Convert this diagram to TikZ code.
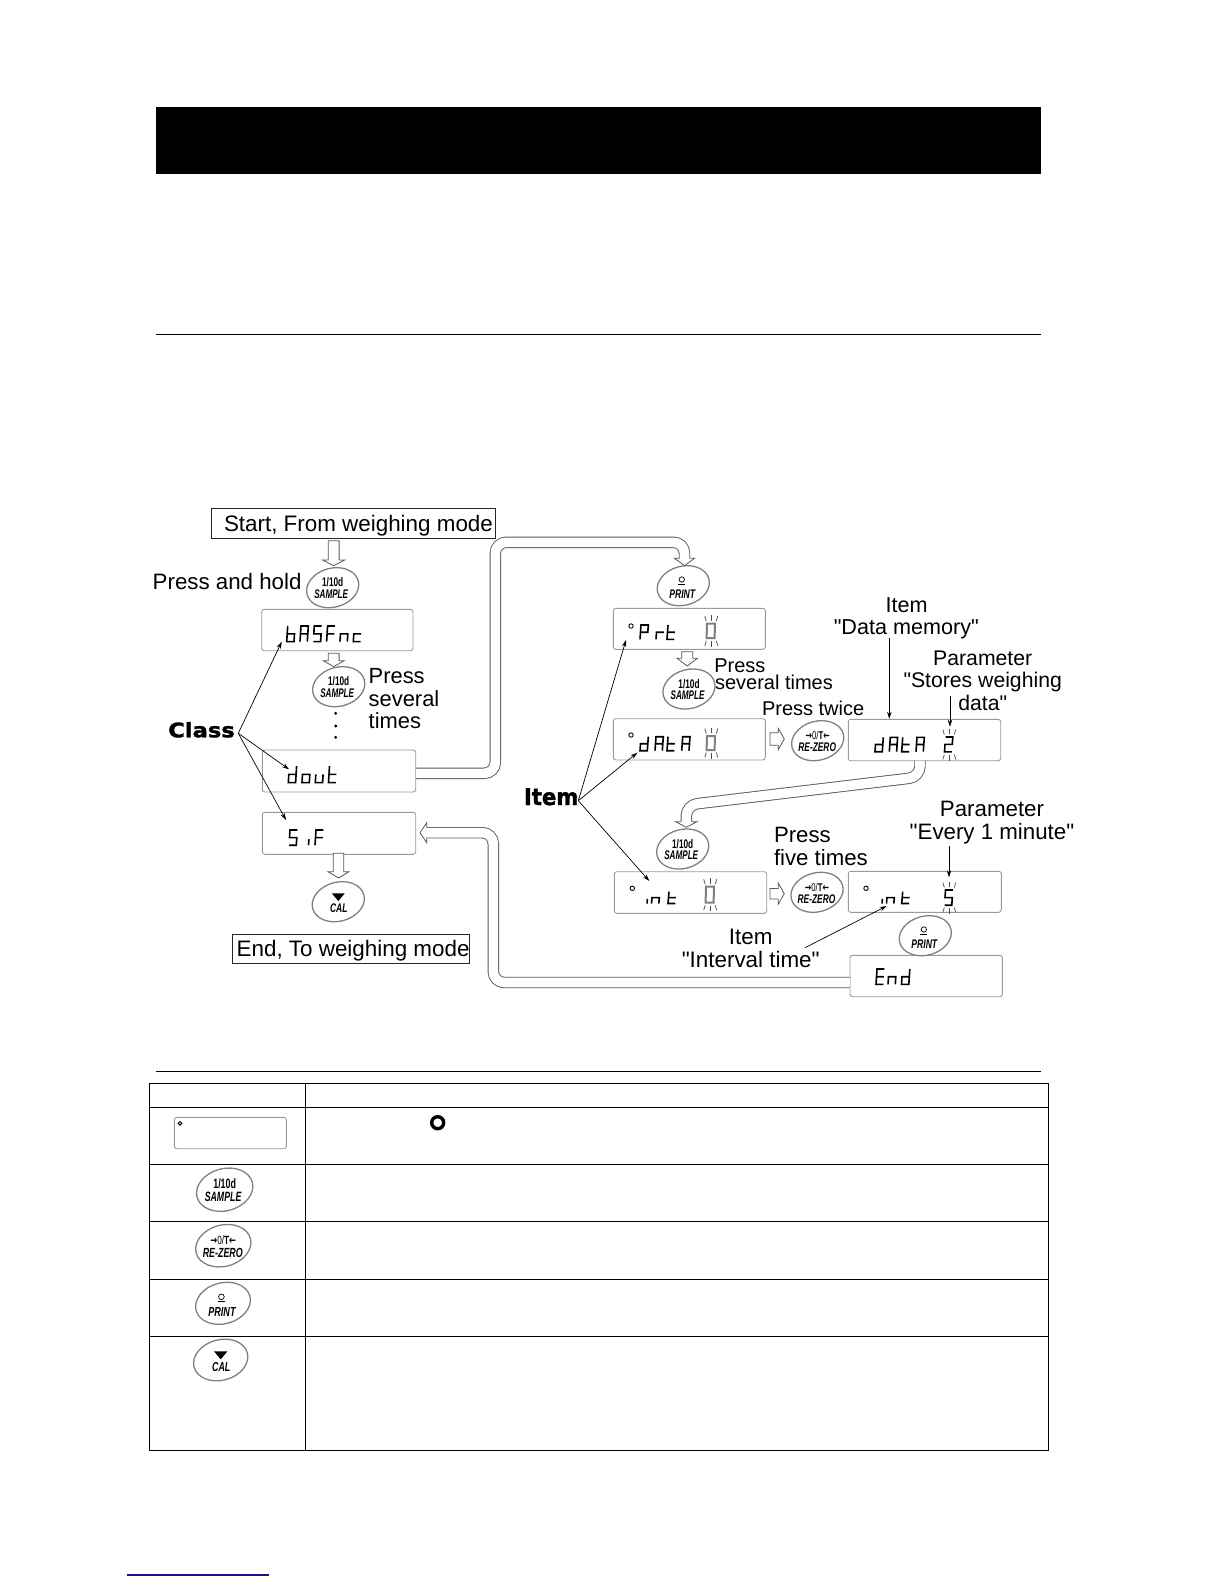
\documentclass[tikz,border=0pt]{standalone}
\usepackage{fontspec}
\usepackage{graphicx}
\setmainfont{Liberation Sans}
\newfontfamily\plainf{Liberation Sans}
\newfontfamily\heavyfont[BoldFeatures={FakeBold=1.6}]{DejaVu Sans}
\newfontfamily\arrowfont{DejaVu Sans}
\usetikzlibrary{arrows.meta,fit,shapes.geometric}
\definecolor{pipegray}{gray}{0.35}
\definecolor{lcdgray}{gray}{0.6}
\definecolor{blinkgray}{gray}{0.5}
\definecolor{linkblue}{RGB}{20,20,140}
\tikzset{
  lcdbox/.style={draw=lcdgray,line width=0.9pt,rounded corners=2.5pt,fill=white,inner sep=0pt},
  plainbox/.style={draw=black!85,line width=0.9pt,inner sep=0pt},
  btnshape/.style={draw=gray,line width=1.3pt,ellipse,rotate=15,fill=white,inner sep=0pt},
  lab/.style={inner sep=0pt,outer sep=0pt},
  thinarrow/.style={line width=0.7pt,-{Stealth[length=7pt,width=4.5pt]}},
  pipe/.style={draw=pipegray,line width=0.9pt,double=white,double distance=9.6pt,rounded corners=11pt},
  hollow/.style={draw=pipegray,line width=0.8pt,fill=white,line join=miter},
  segline/.style={line width=1.6pt,black,line join=miter},
  segblink/.style={line width=2pt,blinkgray,line join=miter},
  ray/.style={line width=0.7pt,black!70},
  tbl/.style={line width=1.1pt,black}
}
% seven-segment glyphs on a unit grid
\def\gb{(0,0)--(0,2)--(1,2)--(1,1)--(0,1)}
\def\gA{(0,2)--(0,0)--(1,0)--(1,2) (0,1)--(1,1)}
\def\gS{(1,0)--(0,0)--(0,1)--(1,1)--(1,2)--(0,2)}
\def\gF{(1,0)--(0,0)--(0,2) (0,1)--(1,1)}
\def\gn{(0,2)--(0,1)--(1,1)--(1,2)}
\def\gc{(1,1)--(0,1)--(0,2)--(1,2)}
\def\gd{(1,0)--(1,2)--(0,2)--(0,1)--(1,1)}
\def\go{(0,1)--(1,1)--(1,2)--(0,2)--cycle}
\def\gu{(0,1)--(0,2)--(1,2)--(1,1)}
\def\gtee{(0,0)--(0,2)--(1,2) (0,1)--(1,1)}
\def\gi{(0,1.2)--(0,2)}
\def\gP{(0,2)--(0,0)--(1,0)--(1,1)--(0,1)}
\def\gr{(0,2)--(0,1)--(1,1)}
\def\gE{(1,0)--(0,0)--(0,2)--(1,2) (0,1)--(1,1)}
\def\gzero{(0,0)--(1,0)--(1,2)--(0,2)--cycle}
\def\gtwo{(0,0)--(1,0)--(1,1)--(0,1)--(0,2)--(1,2)}
% #1 x, #2 top y, #3 half height, #4 glyph
\newcommand\lcdch[4]{\draw[segline,shift={(#1,#2)},x=7.3pt,y={(-0.5pt,-#3pt)}] #4;}
\newcommand\lcdblink[4]{\draw[segblink,shift={(#1,#2)},x=8pt,y={(-0.2pt,-#3pt)}] #4;}
% rays: #1 centre x, #2 top y, #3 bottom y
\newcommand\rays[3]{
  \draw[ray] (#1-5,#2-2.5) -- (#1-6.5,#2-7.5);
  \draw[ray] (#1,#2-3) -- (#1,#2-8.5);
  \draw[ray] (#1+5,#2-2.5) -- (#1+6.5,#2-7.5);
  \draw[ray] (#1-5,#3+2.5) -- (#1-6.5,#3+7.5);
  \draw[ray] (#1,#3+3) -- (#1,#3+8.5);
  \draw[ray] (#1+5,#3+2.5) -- (#1+6.5,#3+7.5);
}
\newcommand\lcddot[2]{\draw[line width=0.9pt,black] (#1,#2) circle[radius=2.2];}
\newcommand\lcdnode[5]{\node[lcdbox,fit={(#2,#3)(#4,#5)}] (#1) {};}
% labels
\newcommand\lblw[5]{\node[lab,anchor=base west] (#1) at (#2,#3) {\plainf\fontsize{#4}{#4}\selectfont #5};}
\newcommand\lblc[5]{\node[lab,anchor=base] (#1) at (#2,#3) {\plainf\fontsize{#4}{#4}\selectfont #5};}
% hollow arrows
\newcommand\hdown[7]{\draw[hollow] (#1-#5,#2) -- (#1-#5,#3) -- (#1-#6,#3) -- (#1,#4) -- (#1+#6,#3) -- (#1+#5,#3) -- (#1+#5,#2)#7;}
\newcommand\hright[6]{\draw[hollow] (#1,#5-#6) -- (#2,#5-#6) -- (#2,#5-10.5) -- (#3,#5) -- (#2,#5+10.5) -- (#2,#5+#6) -- (#1,#5+#6) -- cycle;}
% buttons: name, x, y, k
\newcommand\btnbase[4]{\node[btnshape,minimum width=#4*53pt,minimum height=#4*39pt] (#1) at (#2,#3) {};}
\newcommand\fk[1]{\pgfmathsetmacro\fsz{12.5*#1}\fontsize{\fsz}{\fsz}\selectfont}
\newcommand\samplebtn[4]{\btnbase{#1}{#2}{#3}{#4}
  \node[lab,shift={(0,-5.3*#4)}] (#1a) at (#1.center) {\fk{#4}\scalebox{.66}[1]{\bfseries 1/10d}};
  \node[lab,shift={(-1.5*#4,6.3*#4)}] (#1b) at (#1.center) {\fk{#4}\scalebox{.65}[1]{\bfseries\itshape SAMPLE}};}
\newcommand\zerobtn[4]{\btnbase{#1}{#2}{#3}{#4}
  \node[lab,shift={(0,-5*#4)}] (#1a) at (#1.center) {\fk{#4}\scalebox{.62}[.9]{{\arrowfont\bfseries →}0/\textbf{T}{\arrowfont\bfseries ←}}};
  \node[lab,shift={(-0.5*#4,6.5*#4)}] (#1b) at (#1.center) {\fk{#4}\scalebox{.67}[1]{\bfseries\itshape RE-ZERO}};}
\newcommand\printbtn[4]{\btnbase{#1}{#2}{#3}{#4}
  \draw[line width=0.7pt,shift={(#1.center)}] (-1.5*#4,-6.2*#4) circle[radius=2.7*#4];
  \draw[line width=0.9pt,shift={(#1.center)}] (-5*#4,-1.4*#4) -- (2*#4,-1.4*#4);
  \node[lab,shift={(-1*#4,8.3*#4)}] (#1b) at (#1.center) {\fk{#4}\scalebox{.69}[1]{\bfseries\itshape PRINT}};}
\newcommand\calbtn[4]{\btnbase{#1}{#2}{#3}{#4}
  \fill[black,shift={(#1.center)}] (-6.4*#4,-8.3*#4) -- (6.4*#4,-8.3*#4) -- (0,-0.6*#4) -- cycle;
  \node[lab,shift={(0.5*#4,6.7*#4)}] (#1b) at (#1.center) {\fk{#4}\scalebox{.68}[1]{\bfseries\itshape CAL}};}
\begin{document}
\begin{tikzpicture}[x=1pt,y=-1pt]
\useasboundingbox (0,0) rectangle (1224,1584);
\fill[white] (0,0) rectangle (1224,1584);
% page furniture
\fill[black] (155.5,107) rectangle (1041,174);
\draw[line width=1pt] (155.5,334.5) -- (1041,334.5);
\draw[line width=1pt] (155.5,1071) -- (1041,1071);
\draw[line width=1.4pt,linkblue] (126.7,1575) -- (269,1575);
% table
\draw[tbl] (149.3,1083.3) rectangle (1048.6,1450.3);
\draw[tbl] (305.3,1083.3) -- (305.3,1450.3);
\draw[tbl] (149.3,1107.3) -- (1048.6,1107.3);
\draw[tbl] (149.3,1164.3) -- (1048.6,1164.3);
\draw[tbl] (149.3,1221.3) -- (1048.6,1221.3);
\draw[tbl] (149.3,1279.3) -- (1048.6,1279.3);
\draw[tbl] (149.3,1336.3) -- (1048.6,1336.3);
\lcdnode{tlcd}{174.3}{1117.3}{286.3}{1148.7}
\draw[line width=1pt] (180,1123.3) circle[radius=1.8];
\draw[line width=3.4pt] (437.7,1122.7) circle[radius=6];
\samplebtn{tsample}{224.7}{1189.7}{1.08}
\zerobtn{tzero}{223.3}{1245.7}{1.06}
\printbtn{tprint}{223}{1303.3}{1.05}
\calbtn{tcal}{220.7}{1360}{1.04}
% left column
\node[plainbox,fit={(211.3,508.3)(495.7,538.7)}] (startbox) {};
\lblw{starttxt}{224}{531.7}{22.4}{Start, From weighing mode}
\lblw{hold}{152.7}{589.3}{22.3}{Press and hold}
\samplebtn{s1}{332.7}{587.7}{1}
\lcdnode{basfnc}{261.7}{609.3}{413}{650.7}
\lcdch{287.7}{626}{7.8}{\gb}
\lcdch{301}{626}{7.8}{\gA}
\lcdch{314.3}{626}{7.8}{\gS}
\lcdch{327.6}{626}{7.8}{\gF}
\lcdch{341}{626}{7.8}{\gn}
\lcdch{354.3}{626}{7.8}{\gc}
\samplebtn{s2}{338.7}{686.7}{1}
\lblw{p1}{368.7}{683.3}{21.9}{Press}
\lblw{p2}{368.7}{706}{21.9}{several}
\lblw{p3}{368.7}{728.3}{21.9}{times}
\fill (335.7,713.3) circle[radius=1.6];
\fill (335.7,726) circle[radius=1.6];
\fill (335.7,737.3) circle[radius=1.6];
\lcdnode{dout}{262.3}{750}{415.7}{792}
\lcdch{289.3}{766}{8.3}{\gd}
\lcdch{303}{766}{8.3}{\go}
\lcdch{316.3}{766}{8.3}{\gu}
\lcdch{329.5}{766}{8.3}{\gtee}
\lcdnode{sif}{262.3}{812.3}{415.7}{854.3}
\lcdch{290}{830}{7.6}{\gS}
\lcdch{309.5}{830}{7.6}{\gi}
\lcdch{316}{830}{7.6}{\gF}
\calbtn{c1}{338.3}{901.7}{1}
\node[plainbox,fit={(232.3,934.3)(469.7,963.7)}] (endbox) {};
\lblw{endtxt}{236.7}{956.7}{22.4}{End, To weighing mode}
% right column
\printbtn{pr1}{683.3}{585.7}{1}
\lcdnode{prt}{613.3}{608.3}{765.3}{649.3}
\lcddot{631}{626}
\lcdch{641}{625}{7.2}{\gP}
\lcdch{657}{625}{7.2}{\gr}
\lcdch{668}{625}{7.2}{\gtee}
\lcdblink{707}{623.5}{7.3}{\gzero}
\rays{711.3}{623.5}{638.3}
\lblw{p4}{714.3}{672.5}{20}{Press}
\lblw{p5}{715}{689.3}{20}{several times}
\samplebtn{s3}{689}{689}{1}
\lblw{tw}{762}{715}{20}{Press twice}
\lcdnode{data0}{613.3}{718.7}{765.3}{760}
\lcddot{631}{735}
\lcdch{641}{736.7}{7}{\gd}
\lcdch{656}{736.7}{7}{\gA}
\lcdch{668}{736.7}{7}{\gtee}
\lcdch{682.7}{736.7}{7}{\gA}
\lcdblink{707}{736}{7}{\gzero}
\rays{711.3}{736}{750}
\zerobtn{z1}{817.7}{740.7}{1}
\lcdnode{data2}{848.3}{719.3}{1000.7}{760.7}
\lcdch{876}{737.3}{7.2}{\gd}
\lcdch{890.3}{737.3}{7.2}{\gA}
\lcdch{902.7}{737.3}{7.2}{\gtee}
\lcdch{917}{737.3}{7.2}{\gA}
\lcdch{945.5}{737}{7.4}{\gtwo}
\rays{949.3}{737}{752}
\lblc{it1}{906.7}{612.3}{21.6}{Item}
\lblc{it2}{906.3}{634.3}{21.6}{"Data memory"}
\lblc{pa1}{982.7}{665}{21.2}{Parameter}
\lblc{pa2}{982.7}{687.3}{21.2}{"Stores weighing}
\lblc{pa3}{982.7}{710}{21.2}{data"}
\samplebtn{s4}{682.7}{849}{1}
\lcdnode{int0}{614.3}{871.7}{766.7}{913.3}
\lcddot{632.3}{888.3}
\lcdch{648}{891.7}{5.9}{\gi}
\lcdch{652.5}{891.7}{5.9}{\gn}
\lcdch{669}{891.7}{5.9}{\gtee}
\lcdblink{706}{886.7}{8}{\gzero}
\rays{710.2}{886.7}{902.7}
\zerobtn{z2}{817}{892.3}{1}
\lblw{p6}{774}{842.7}{22.2}{Press}
\lblw{p7}{774}{865.7}{22.2}{five times}
\lcdnode{int5}{848.3}{871.3}{1001.3}{912.3}
\lcddot{866}{888.3}
\lcdch{883}{891.7}{5.9}{\gi}
\lcdch{887.5}{891.7}{5.9}{\gn}
\lcdch{902.7}{891.7}{5.9}{\gtee}
\lcdch{945.5}{890}{7.6}{\gS}
\rays{949.3}{890}{905}
\lblc{pb1}{992}{816.7}{22.3}{Parameter}
\lblc{pb2}{992}{839}{22.3}{"Every 1 minute"}
\lblc{ib1}{750.7}{944.7}{22.4}{Item}
\lblc{ib2}{750.7}{967.3}{22.4}{"Interval time"}
\lcdnode{endl}{850}{955.3}{1002.3}{996.7}
\lcdch{877}{969}{7.7}{\gE}
\lcdch{889}{969}{7.7}{\gn}
\lcdch{902.5}{969}{7.7}{\gd}
\draw[line width=0.7pt,pipegray] (917,952) -- (917,955.3) (928,952) -- (928,955.3);
\printbtn{pr2}{925.3}{935.7}{1}
% class / item labels
\node[lab,anchor=base west] (classl) at (168.3,737.3) {\fontsize{20}{20}\selectfont\scalebox{1.13}[1]{\heavyfont\bfseries Class}};
\node[lab,anchor=base west] (iteml) at (524,805) {\fontsize{23}{23}\selectfont\scalebox{.92}[1]{\heavyfont\bfseries Item}};
\coordinate (classo) at (238.3,733.3);
\coordinate (itemo) at (578.3,800.7);
\coordinate (cb) at (281.7,641.7);
\coordinate (cd) at (289,769.3);
\coordinate (cs) at (286,820);
\coordinate (ip) at (626,640);
\coordinate (id) at (637.3,752.7);
\coordinate (ii) at (649.3,881);
\draw[thinarrow] (classo) -- (cb);
\draw[thinarrow] (classo) -- (cd);
\draw[thinarrow] (classo) -- (cs);
\draw[thinarrow] (itemo) -- (ip);
\draw[thinarrow] (itemo) -- (id);
\draw[thinarrow] (itemo) -- (ii);
\coordinate (dm0) at (889.3,638.3);
\coordinate (dm1) at (889.3,718.8);
\draw[thinarrow] (dm0) -- (dm1);
\coordinate (sw0) at (950,696);
\coordinate (sw1) at (950,726.7);
\draw[thinarrow] (sw0) -- (sw1);
\coordinate (em0) at (949,846);
\coordinate (em1) at (949,877.3);
\draw[thinarrow] (em0) -- (em1);
\coordinate (iv0) at (805,947.7);
\coordinate (iv1) at (886.7,906);
\draw[thinarrow] (iv0) -- (iv1);
% pipes
\coordinate (q1a) at (415.7,773.3);
\coordinate (q1b) at (495.3,773.3);
\coordinate (q1c) at (495.3,542.3);
\coordinate (q1d) at (684.5,542.3);
\coordinate (q1e) at (684.5,558.8);
\draw[pipe] (q1a) -- (q1b) -- (q1c) -- (q1d) -- (q1e);
\coordinate (q2a) at (920,760.7);
\coordinate (q2b) at (920,777);
\coordinate (q2c) at (686.3,805);
\coordinate (q2d) at (686.3,822.2);
\draw[pipe] (q2a) -- (q2b) -- (q2c) -- (q2d);
\coordinate (q3a) at (850,982.5);
\coordinate (q3b) at (493.3,982.5);
\coordinate (q3c) at (493.3,832.7);
\coordinate (q3d) at (426.2,832.7);
\draw[pipe] (q3a) -- (q3b) -- (q3c) -- (q3d);
% hollow block arrows
\hdown{333.7}{540.7}{560}{565.7}{5.4}{11}{--cycle}
\hdown{333.7}{653.3}{660.7}{666.7}{5.4}{10.5}{--cycle}
\hdown{338.5}{853.3}{871.7}{878}{5.2}{10.5}{--cycle}
\hdown{687.2}{651.7}{658.3}{666}{5.5}{10.2}{--cycle}
\hdown{684.5}{558.3}{558.3}{565.7}{5}{10}{}
\hdown{686.3}{821.7}{821.7}{827.3}{5.2}{10.7}{}
\hright{770}{778.3}{784.3}{0}{739}{6.3}
\hright{770}{778.3}{784.3}{0}{893.7}{5.3}
\draw[hollow] (426.7,827.7) -- (426.7,822.7) -- (420,832.7) -- (426.7,842.7) -- (426.7,837.7);
\end{tikzpicture}
\end{document}
